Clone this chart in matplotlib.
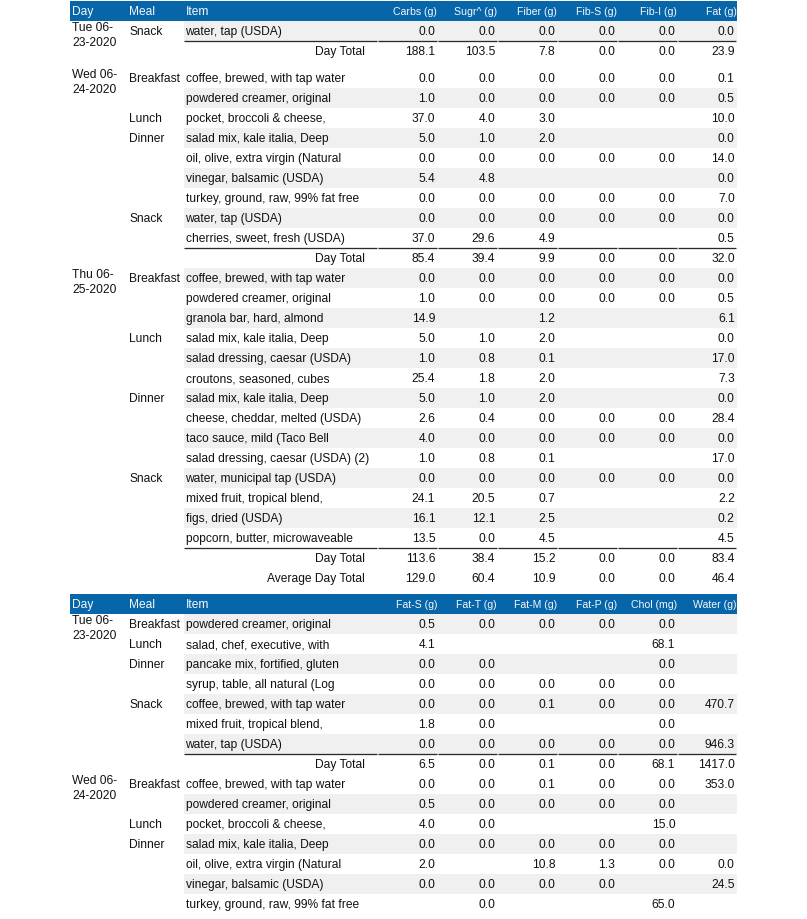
import matplotlib
matplotlib.use("Agg")
import matplotlib.pyplot as plt
from matplotlib.patches import Rectangle

# ---------------- data ----------------
T1_HEADERS = ["Day", "Meal", "Item", "Carbs (g)", "Sugr^ (g)", "Fiber (g)",
              "Fib-S (g)", "Fib-I (g)", "Fat (g)"]
T1_DAY = ["Tue 06-23-2020"] * 1 + ["Wed 06-24-2020"] * 9 + ["Thu 06-25-2020"] * 14
T1_MEAL = ["Snack",
           "Breakfast", "", "Lunch", "Dinner", "", "", "", "Snack", "",
           "Breakfast", "", "", "Lunch", "", "", "Dinner", "", "", "", "Snack", "", "", ""]
T1_ITEM = ["water, tap (USDA)",
           "coffee, brewed, with tap water", "powdered creamer, original",
           "pocket, broccoli & cheese,", "salad mix, kale italia, Deep",
           "oil, olive, extra virgin (Natural", "vinegar, balsamic (USDA)",
           "turkey, ground, raw, 99% fat free", "water, tap (USDA)",
           "cherries, sweet, fresh (USDA)",
           "coffee, brewed, with tap water", "powdered creamer, original",
           "granola bar, hard, almond", "salad mix, kale italia, Deep",
           "salad dressing, caesar (USDA)", "croutons, seasoned, cubes",
           "salad mix, kale italia, Deep", "cheese, cheddar, melted (USDA)",
           "taco sauce, mild (Taco Bell", "salad dressing, caesar (USDA) (2)",
           "water, municipal tap (USDA)", "mixed fruit, tropical blend,",
           "figs, dried (USDA)", "popcorn, butter, microwaveable"]
T1_CARBS = [0.0, 0.0, 1.0, 37.0, 5.0, 0.0, 5.4, 0.0, 0.0, 37.0,
            0.0, 1.0, 14.9, 5.0, 1.0, 25.4, 5.0, 2.6, 4.0, 1.0, 0.0, 24.1, 16.1, 13.5]
T1_SUGR = [0.0, 0.0, 0.0, 4.0, 1.0, 0.0, 4.8, 0.0, 0.0, 29.6,
           0.0, 0.0, None, 1.0, 0.8, 1.8, 1.0, 0.4, 0.0, 0.8, 0.0, 20.5, 12.1, 0.0]
T1_FIBER = [0.0, 0.0, 0.0, 3.0, 2.0, 0.0, None, 0.0, 0.0, 4.9,
            0.0, 0.0, 1.2, 2.0, 0.1, 2.0, 2.0, 0.0, 0.0, 0.1, 0.0, 0.7, 2.5, 4.5]
T1_FIBS = [0.0, 0.0, 0.0, None, None, 0.0, None, 0.0, 0.0, None,
           0.0, 0.0, None, None, None, None, None, 0.0, 0.0, None, 0.0, None, None, None]
T1_FIBI = [0.0, 0.0, 0.0, None, None, 0.0, None, 0.0, 0.0, None,
           0.0, 0.0, None, None, None, None, None, 0.0, 0.0, None, 0.0, None, None, None]
T1_FAT = [0.0, 0.1, 0.5, 10.0, 0.0, 14.0, 0.0, 7.0, 0.0, 0.5,
          0.0, 0.5, 6.1, 0.0, 17.0, 7.3, 0.0, 28.4, 0.0, 17.0, 0.0, 2.2, 0.2, 4.5]
T1_DAY_TOTALS = [[188.1, 103.5, 7.8, 0.0, 0.0, 23.9],
                 [85.4, 39.4, 9.9, 0.0, 0.0, 32.0],
                 [113.6, 38.4, 15.2, 0.0, 0.0, 83.4]]
T1_AVERAGE = [129.0, 60.4, 10.9, 0.0, 0.0, 46.4]

T2_HEADERS = ["Day", "Meal", "Item", "Fat-S (g)", "Fat-T (g)", "Fat-M (g)",
              "Fat-P (g)", "Chol (mg)", "Water (g)"]
T2_DAY = ["Tue 06-23-2020"] * 7 + ["Wed 06-24-2020"] * 7
T2_MEAL = ["Breakfast", "Lunch", "Dinner", "", "Snack", "", "",
           "Breakfast", "", "Lunch", "Dinner", "", "", ""]
T2_ITEM = ["powdered creamer, original", "salad, chef, executive, with",
           "pancake mix, fortified, gluten", "syrup, table, all natural (Log",
           "coffee, brewed, with tap water", "mixed fruit, tropical blend,",
           "water, tap (USDA)",
           "coffee, brewed, with tap water", "powdered creamer, original",
           "pocket, broccoli & cheese,", "salad mix, kale italia, Deep",
           "oil, olive, extra virgin (Natural", "vinegar, balsamic (USDA)",
           "turkey, ground, raw, 99% fat free"]
T2_FATS = [0.5, 4.1, 0.0, 0.0, 0.0, 1.8, 0.0, 0.0, 0.5, 4.0, 0.0, 2.0, 0.0, None]
T2_FATT = [0.0, None, 0.0, 0.0, 0.0, 0.0, 0.0, 0.0, 0.0, 0.0, 0.0, None, 0.0, 0.0]
T2_FATM = [0.0, None, None, 0.0, 0.1, None, 0.0, 0.1, 0.0, None, 0.0, 10.8, 0.0, None]
T2_FATP = [0.0, None, None, 0.0, 0.0, None, 0.0, 0.0, 0.0, None, 0.0, 1.3, 0.0, None]
T2_CHOL = [0.0, 68.1, 0.0, 0.0, 0.0, 0.0, 0.0, 0.0, 0.0, 15.0, 0.0, 0.0, None, 65.0]
T2_WATER = [None, None, None, None, 470.7, None, 946.3, 353.0, None, None, None, 0.0, 24.5, None]
T2_DAY_TOTALS = [[6.5, 0.0, 0.1, 0.0, 68.1, 1417.0]]
T2_AVERAGE = None

# ---------------- layout / style ----------------
W, H, DPI = 807, 919, 100
PX = 72.0 / DPI
FS = 12 * PX
FS_HDR_NUM = 10.5 * PX
TABLE_LEFT, TABLE_RIGHT = 70, 737
ITEM_LEFT = 183.5
NUM_BOUNDS = [377.5, 437.5, 497.5, 557.5, 617.5, 677.5, 737.0]
X_DAY, X_MEAL, X_ITEM = 72, 129.5, 185.5
X_TOTAL_LABEL = 364.5
ROW_H, HDR_H = 20, 20
GROUP_MIN_H = 47
TABLE_GAP = 6
TOP = 1
BASE = 4.3  # baseline offset from visual centre
HDR_BG = "#0766a9"
HDR_FG = "#f4f7fb"
STRIPE = "#f0f0f0"
TXT = "#111111"
RULE = "#2a2a2a"

plt.rcParams["font.family"] = ["Liberation Sans", "DejaVu Sans"]
fig = plt.figure(figsize=(W / DPI, H / DPI), dpi=DPI)
ax = fig.add_axes([0, 0, 1, 1])
ax.set_xlim(0, W)
ax.set_ylim(H, 0)
ax.axis("off")


def fmt(v):
    return "" if v is None else f"{v:.1f}"


def txt(x, yc, s, ha="left", size=FS, color=TXT):
    ax.text(x, yc + BASE * size / FS, s, ha=ha, va="baseline", fontsize=size, color=color)


def total_row(y, label, vals, rule):
    if rule:
        segs = [ITEM_LEFT] + NUM_BOUNDS
        for a, b in zip(segs[:-1], segs[1:]):
            ax.plot([a, b - 0.8], [y, y], color=RULE, lw=1.3 * PX * 1.0 / PX * 0.72,
                    solid_capstyle="butt")
    yc = y + ROW_H / 2
    txt(X_TOTAL_LABEL, yc, label, ha="right")
    for b, v in zip(NUM_BOUNDS[1:], vals):
        txt(b - 2.2, yc, fmt(v), ha="right")


def draw_table(y0, headers, days, meals, items, cols, day_totals, average):
    # header bar
    ax.add_patch(Rectangle((TABLE_LEFT, y0), TABLE_RIGHT - TABLE_LEFT, HDR_H,
                           facecolor=HDR_BG, edgecolor="none"))
    hc = y0 + HDR_H / 2
    txt(X_DAY, hc, headers[0], color=HDR_FG)
    txt(X_MEAL, hc, headers[1], color=HDR_FG)
    txt(X_ITEM, hc, headers[2], color=HDR_FG)
    for b, h in zip(NUM_BOUNDS[1:], headers[3:]):
        txt(b - 0.5, hc, h, ha="right", size=FS_HDR_NUM, color=HDR_FG)

    y = y0 + HDR_H
    # group rows by consecutive day
    groups = []
    for i, d in enumerate(days):
        if not groups or groups[-1][0] != d:
            groups.append([d, []])
        groups[-1][1].append(i)
    k = 0
    for gi, (day, idxs) in enumerate(groups):
        gtop = y
        first, second = day.split("-", 1)
        txt(X_DAY, gtop + 6, first + "-")
        txt(X_DAY, gtop + 20.5, second)
        for i in idxs:
            if k % 2 == 0:
                ax.add_patch(Rectangle((ITEM_LEFT, y), TABLE_RIGHT - ITEM_LEFT, ROW_H,
                                       facecolor=STRIPE, edgecolor="none"))
            yc = y + ROW_H / 2
            if meals[i]:
                txt(X_MEAL, yc, meals[i])
            txt(X_ITEM, yc, items[i])
            for b, col in zip(NUM_BOUNDS[1:], cols):
                s = fmt(col[i])
                if s:
                    txt(b - 2.2, yc, s, ha="right")
            y += ROW_H
            k += 1
        if gi < len(day_totals):
            total_row(y, "Day Total", day_totals[gi], True)
            y += ROW_H
        y = max(y, gtop + GROUP_MIN_H)
    if average is not None:
        total_row(y, "Average Day Total", average, False)
        y += ROW_H
    return y


y_end = draw_table(TOP, T1_HEADERS, T1_DAY, T1_MEAL, T1_ITEM,
                   [T1_CARBS, T1_SUGR, T1_FIBER, T1_FIBS, T1_FIBI, T1_FAT],
                   T1_DAY_TOTALS, T1_AVERAGE)
draw_table(y_end + TABLE_GAP, T2_HEADERS, T2_DAY, T2_MEAL, T2_ITEM,
           [T2_FATS, T2_FATT, T2_FATM, T2_FATP, T2_CHOL, T2_WATER],
           T2_DAY_TOTALS, T2_AVERAGE)

fig.savefig("out.png", dpi=DPI)
